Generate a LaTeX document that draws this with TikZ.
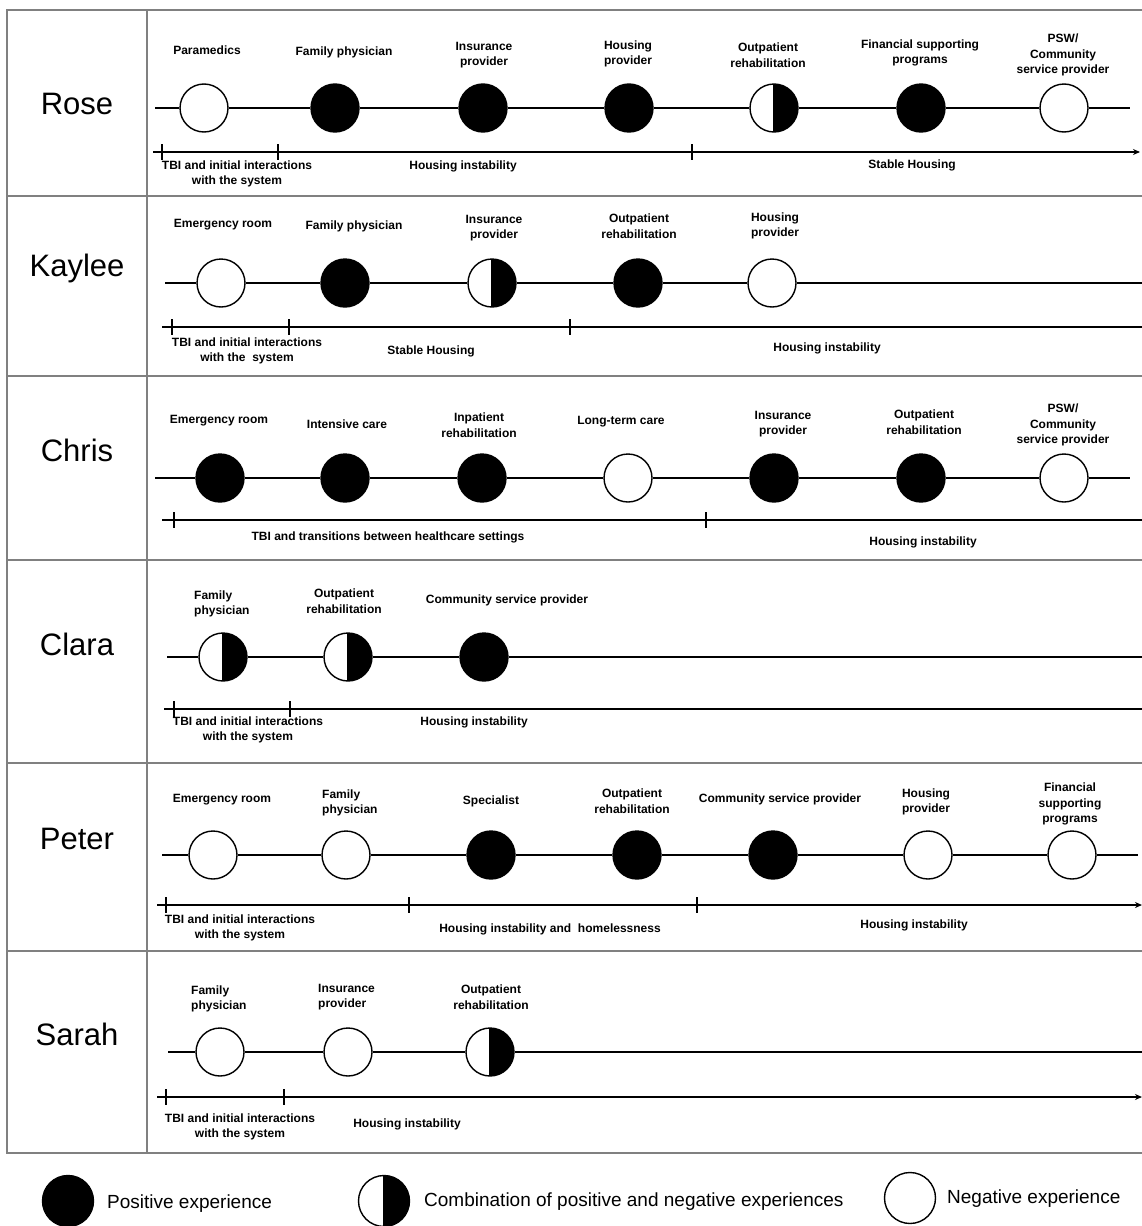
\documentclass[tikz,border=0pt]{standalone}
\usepackage{fontspec}
\setmainfont{Liberation Sans}
\usetikzlibrary{arrows.meta}
\begin{document}
\begin{tikzpicture}[x=1pt,y=-1pt,
  ev/.style={circle, minimum size=48pt, inner sep=0pt, line width=1.4pt, draw=black},
  posev/.style={ev, fill=black},
  negev/.style={ev, fill=white},
  mixev/.style={ev, fill=white, path picture={
      \fill[black] (path picture bounding box.north) rectangle (path picture bounding box.south east);
      \draw[line width=1.4pt] (path picture bounding box.north) -- (path picture bounding box.south);}},
  lbl/.style={font=\bfseries\fontsize{12}{15.7}\selectfont, align=center, inner sep=0pt},
  lbll/.style={lbl, align=left, anchor=west},
  pname/.style={font=\fontsize{31}{34}\selectfont, inner sep=0pt},
  legtxt/.style={font=\fontsize{19}{22}\selectfont, inner sep=0pt, anchor=west},
  axis/.style={line width=1.3pt},
  tl/.style={line width=1.3pt},
  tla/.style={line width=1.3pt, -{Stealth[length=7pt,width=6pt]}},
  tbl/.style={line width=1.4pt, draw=black!50},
]
\useasboundingbox (0,0) rectangle (1142,1226);
\fill[white] (0,0) rectangle (1142,1226);

% table
\draw[tbl] (1142,10) -- (7,10) -- (7,1153) -- (1142,1153);
\foreach \yy in {196,376,560,763,951} \draw[tbl] (7,\yy) -- (1142,\yy);
\draw[tbl] (147,10) -- (147,1153);

% ================= Rose
\node[pname] (nRose) at (77,104) {Rose};
\coordinate (r1s) at (155,108); \coordinate (r1e) at (1130,108);
\node[negev] (r1a) at (204,108) {};
\node[posev] (r1b) at (335,108) {};
\node[posev] (r1c) at (483,108) {};
\node[posev] (r1d) at (629,108) {};
\node[mixev] (r1f) at (774,108) {};
\node[posev] (r1g) at (921,108) {};
\node[negev] (r1h) at (1064,108) {};
\draw[axis] (r1s) -- (r1a) -- (r1b) -- (r1c) -- (r1d) -- (r1f) -- (r1g) -- (r1h) -- (r1e);
\node[lbl] (l1a) at (207,50) {Paramedics};
\node[lbl] (l1b) at (344,52) {Family physician};
\node[lbl] (l1c) at (484,55) {Insurance\\provider};
\node[lbl] (l1d) at (628,54) {Housing\\provider};
\node[lbl] (l1f) at (768,55) {Outpatient\\rehabilitation};
\node[lbl] (l1g) at (920,53) {Financial supporting\\programs};
\node[lbl] (l1h) at (1063,55) {PSW/\\Community\\service provider};
\coordinate (t1s) at (153,152); \coordinate (t1e) at (1140,152);
\draw[tla] (t1s) -- (t1e);
\foreach \xx [count=\i] in {162,278,692} {
  \coordinate (t1k\i) at (\xx,152);
  \draw[tl] ([yshift=8pt]t1k\i) -- ([yshift=-8pt]t1k\i);}
\node[lbl] (p1a) at (237,174) {TBI and initial interactions\\with the system};
\node[lbl] (p1b) at (463,166) {Housing instability};
\node[lbl] (p1c) at (912,165) {Stable Housing};

% ================= Kaylee
\node[pname] (nKaylee) at (77,268) {Kaylee};
\coordinate (r2s) at (165,283); \coordinate (r2e) at (1142,283);
\node[negev] (r2a) at (221,283) {};
\node[posev] (r2b) at (345,283) {};
\node[mixev] (r2c) at (492,283) {};
\node[posev] (r2d) at (638,283) {};
\node[negev] (r2f) at (772,283) {};
\draw[axis] (r2s) -- (r2a) -- (r2b) -- (r2c) -- (r2d) -- (r2f) -- (r2e);
\node[lbl] (l2a) at (223,225) {Emergency room};
\node[lbl] (l2b) at (354,226) {Family physician};
\node[lbl] (l2c) at (494,228) {Insurance\\provider};
\node[lbl] (l2d) at (639,226) {Outpatient\\rehabilitation};
\node[lbl] (l2f) at (775,226) {Housing\\provider};
\coordinate (t2s) at (162,327); \coordinate (t2e) at (1142,327);
\draw[tl] (t2s) -- (t2e);
\foreach \xx [count=\i] in {172,289,570} {
  \coordinate (t2k\i) at (\xx,327);
  \draw[tl] ([yshift=8pt]t2k\i) -- ([yshift=-8pt]t2k\i);}
\node[lbl] (p2a) at (247,351) {TBI and initial interactions\\with the\ \ system};
\node[lbl] (p2b) at (431,351) {Stable Housing};
\node[lbl] (p2c) at (827,348) {Housing instability};

% ================= Chris
\node[pname] (nChris) at (77,450) {Chris};
\coordinate (r3s) at (155,478); \coordinate (r3e) at (1130,478);
\node[posev] (r3a) at (220,478) {};
\node[posev] (r3b) at (345,478) {};
\node[posev] (r3c) at (482,478) {};
\node[negev] (r3d) at (628,478) {};
\node[posev] (r3f) at (774,478) {};
\node[posev] (r3g) at (921,478) {};
\node[negev] (r3h) at (1064,478) {};
\draw[axis] (r3s) -- (r3a) -- (r3b) -- (r3c) -- (r3d) -- (r3f) -- (r3g) -- (r3h) -- (r3e);
\node[lbl] (l3a) at (219,421) {Emergency room};
\node[lbl] (l3b) at (347,424) {Intensive care};
\node[lbl] (l3c) at (479,425) {Inpatient\\rehabilitation};
\node[lbl] (l3d) at (621,422) {Long-term care};
\node[lbl] (l3f) at (783,424) {Insurance\\provider};
\node[lbl] (l3g) at (924,422) {Outpatient\\rehabilitation};
\node[lbl] (l3h) at (1063,425) {PSW/\\Community\\service provider};
\coordinate (t3s) at (162,520); \coordinate (t3e) at (1142,520);
\draw[tl] (t3s) -- (t3e);
\foreach \xx [count=\i] in {174,706} {
  \coordinate (t3k\i) at (\xx,520);
  \draw[tl] ([yshift=8pt]t3k\i) -- ([yshift=-8pt]t3k\i);}
\node[lbl] (p3a) at (388,537) {TBI and transitions between healthcare settings};
\node[lbl] (p3b) at (923,542) {Housing instability};

% ================= Clara
\node[pname] (nClara) at (77,644) {Clara};
\coordinate (r4s) at (167,657); \coordinate (r4e) at (1142,657);
\node[mixev] (r4a) at (223,657) {};
\node[mixev] (r4b) at (348,657) {};
\node[posev] (r4c) at (484,657) {};
\draw[axis] (r4s) -- (r4a) -- (r4b) -- (r4c) -- (r4e);
\node[lbll] (l4a) at (194,604) {Family\\physician};
\node[lbl] (l4b) at (344,601) {Outpatient\\rehabilitation};
\node[lbl] (l4c) at (507,600) {Community service provider};
\coordinate (t4s) at (164,709); \coordinate (t4e) at (1142,709);
\draw[tl] (t4s) -- (t4e);
\foreach \xx [count=\i] in {174,290} {
  \coordinate (t4k\i) at (\xx,709);
  \draw[tl] ([yshift=8pt]t4k\i) -- ([yshift=-8pt]t4k\i);}
\node[lbl] (p4a) at (248,730) {TBI and initial interactions\\with the system};
\node[lbl] (p4b) at (474,722) {Housing instability};

% ================= Peter
\node[pname] (nPeter) at (77,839) {Peter};
\coordinate (r5s) at (162,855); \coordinate (r5e) at (1138,855);
\node[negev] (r5a) at (213,855) {};
\node[negev] (r5b) at (346,855) {};
\node[posev] (r5c) at (491,855) {};
\node[posev] (r5d) at (637,855) {};
\node[posev] (r5f) at (773,855) {};
\node[negev] (r5g) at (928,855) {};
\node[negev] (r5h) at (1072,855) {};
\draw[axis] (r5s) -- (r5a) -- (r5b) -- (r5c) -- (r5d) -- (r5f) -- (r5g) -- (r5h) -- (r5e);
\node[lbl] (l5a) at (222,800) {Emergency room};
\node[lbll] (l5b) at (322,803) {Family\\physician};
\node[lbl] (l5c) at (491,801) {Specialist};
\node[lbl] (l5d) at (632,801) {Outpatient\\rehabilitation};
\node[lbl] (l5f) at (780,799) {Community service provider};
\node[lbl] (l5g) at (926,802) {Housing\\provider};
\node[lbl] (l5h) at (1070,804) {Financial\\supporting\\programs};
\coordinate (t5s) at (157,905); \coordinate (t5e) at (1142,905);
\draw[tla] (t5s) -- (t5e);
\foreach \xx [count=\i] in {166,409,697} {
  \coordinate (t5k\i) at (\xx,905);
  \draw[tl] ([yshift=8pt]t5k\i) -- ([yshift=-8pt]t5k\i);}
\node[lbl] (p5a) at (240,928) {TBI and initial interactions\\with the system};
\node[lbl] (p5b) at (550,929) {Housing instability and\ \ homelessness};
\node[lbl] (p5c) at (914,925) {Housing instability};

% ================= Sarah
\node[pname] (nSarah) at (77,1034) {Sarah};
\coordinate (r6s) at (168,1052); \coordinate (r6e) at (1142,1052);
\node[negev] (r6a) at (220,1052) {};
\node[negev] (r6b) at (348,1052) {};
\node[mixev] (r6c) at (490,1052) {};
\draw[axis] (r6s) -- (r6a) -- (r6b) -- (r6c) -- (r6e);
\node[lbll] (l6a) at (191,999) {Family\\physician};
\node[lbll] (l6b) at (318,997) {Insurance\\provider};
\node[lbl] (l6c) at (491,997) {Outpatient\\rehabilitation};
\coordinate (t6s) at (157,1097); \coordinate (t6e) at (1142,1097);
\draw[tla] (t6s) -- (t6e);
\foreach \xx [count=\i] in {166,284} {
  \coordinate (t6k\i) at (\xx,1097);
  \draw[tl] ([yshift=8pt]t6k\i) -- ([yshift=-8pt]t6k\i);}
\node[lbl] (p6a) at (240,1127) {TBI and initial interactions\\with the system};
\node[lbl] (p6b) at (407,1124) {Housing instability};

% ================= Legend
\node[posev, minimum size=51pt] (kpos) at (68,1201) {};
\node[legtxt] (kpost) at (107,1204) {Positive experience};
\node[mixev, minimum size=51pt] (kmix) at (384,1201) {};
\node[legtxt] (kmixt) at (424,1202) {Combination of positive and negative experiences};
\node[negev, minimum size=51pt] (kneg) at (910,1198) {};
\node[legtxt] (knegt) at (947,1199) {Negative experience};
\end{tikzpicture}
\end{document}
